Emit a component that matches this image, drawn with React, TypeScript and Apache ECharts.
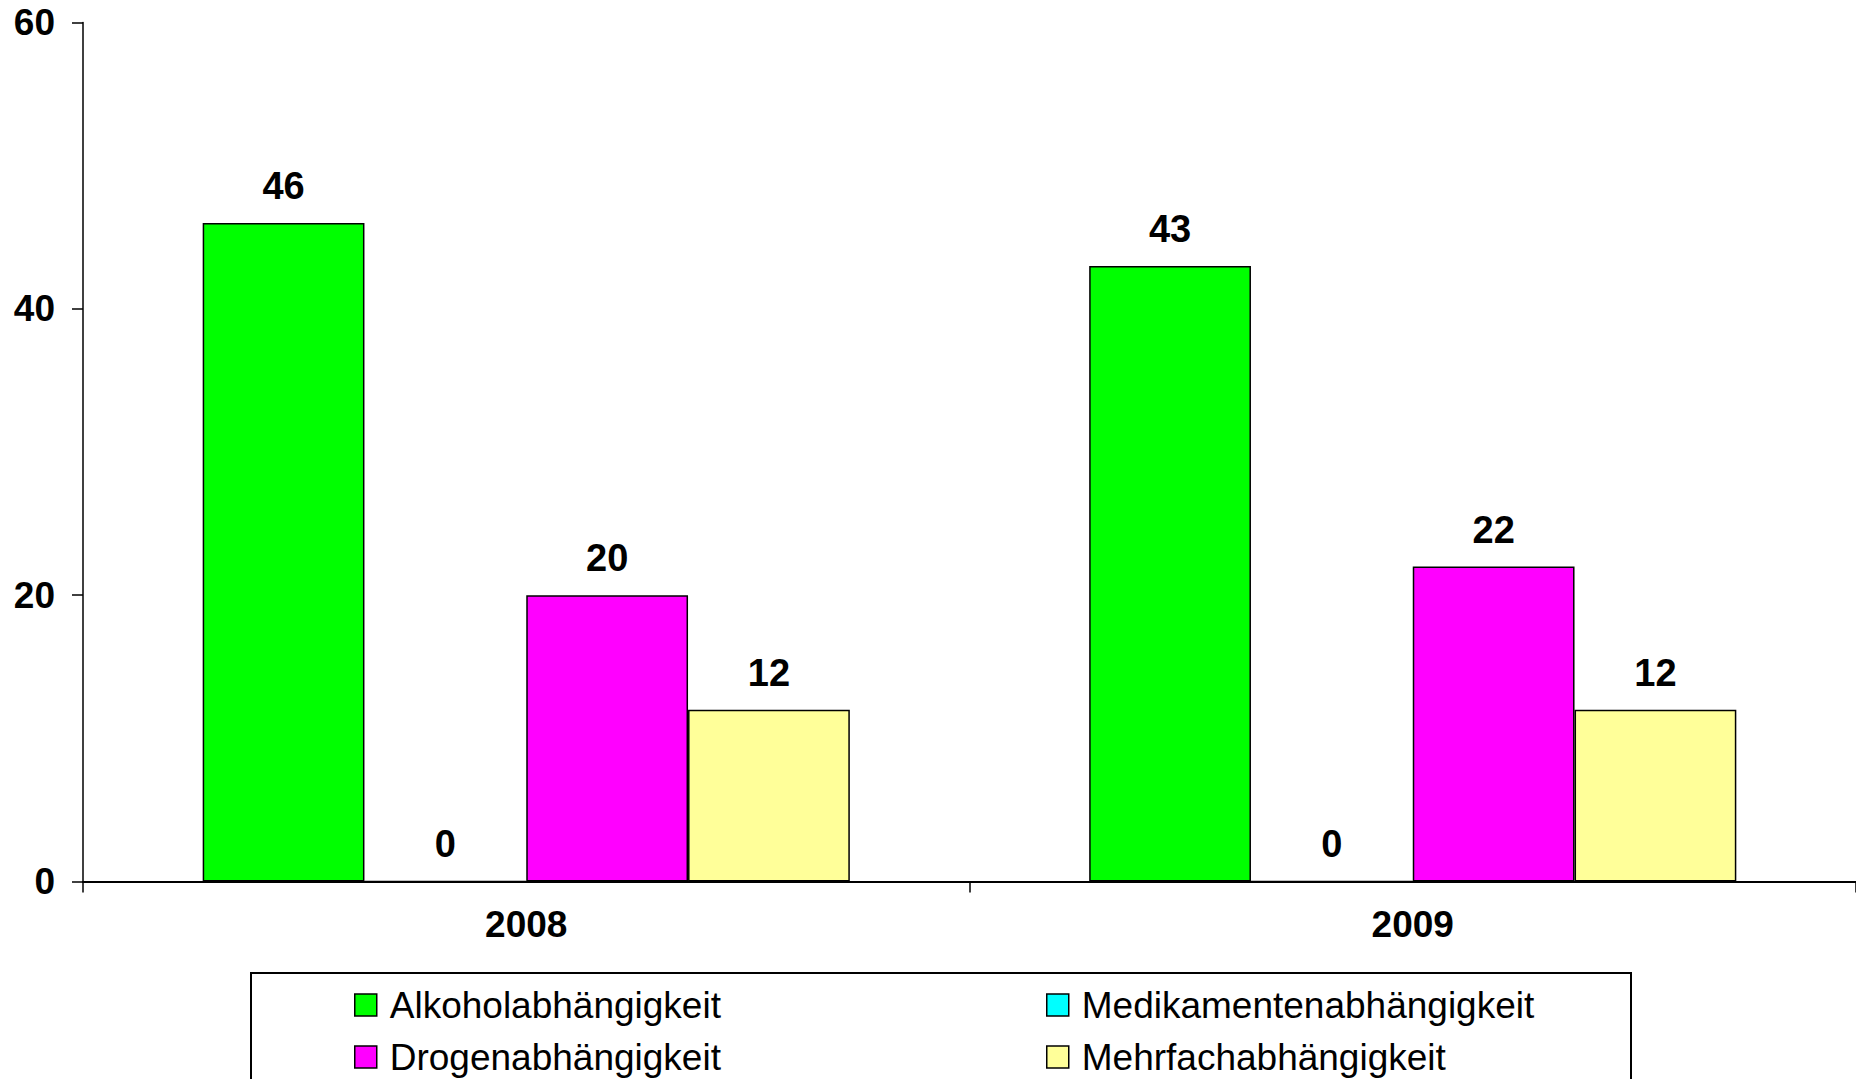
import React, { useEffect, useRef } from "react";
import * as echarts from "echarts";

const categories = ["2008", "2009"];
const seriesNames = [
  "Alkoholabhängigkeit",
  "Medikamentenabhängigkeit",
  "Drogenabhängigkeit",
  "Mehrfachabhängigkeit",
];
const alkohol = [46, 43];
const medikamente = [0, 0];
const drogen = [20, 22];
const mehrfach = [12, 12];
const seriesColors = ["#00FF00", "#00FFFF", "#FF00FF", "#FFFF99"];
const yTicks = { min: 0, max: 60, interval: 20 };

const FONT = "'Liberation Sans', Arial, sans-serif";

export default function App() {
  const ref = useRef<HTMLDivElement>(null);
  useEffect(() => {
    if (!ref.current) return;
    const chart = echarts.init(ref.current, null, { renderer: "svg" });
    const values = [alkohol, medikamente, drogen, mehrfach];
    const series = seriesNames.map((name, i) => ({
      name,
      type: "bar",
      data: values[i],
      barGap: "0%",
      barCategoryGap: "27%",
      itemStyle: { color: seriesColors[i], borderColor: "#000", borderWidth: 1.5 },
      label: {
        show: true,
        position: "top",
        distance: 18,
        color: "#000",
        fontFamily: FONT,
        fontWeight: "bold",
        fontSize: 38,
      },
    }));
    const legendCommon = {
      orient: "vertical",
      top: 985,
      padding: 0,
      itemWidth: 22,
      itemHeight: 22,
      itemGap: 12,
      icon: "rect",
      itemStyle: { borderColor: "#000", borderWidth: 1.5 },
      textStyle: {
        color: "#000",
        fontFamily: FONT,
        fontSize: 37,
        lineHeight: 40,
        padding: [0, 0, 0, 8],
      },
      selectedMode: false,
    };
    chart.setOption({
      animation: false,
      backgroundColor: "#fff",
      grid: { left: 83, right: 0, top: 22.5, bottom: 197.5, containLabel: false },
      xAxis: {
        type: "category",
        data: categories,
        axisLine: { lineStyle: { color: "#000", width: 2 } },
        axisTick: { show: true, length: 11, lineStyle: { color: "#000", width: 1.5 } },
        axisLabel: {
          color: "#000",
          fontFamily: FONT,
          fontWeight: "bold",
          fontSize: 37,
          margin: 24,
        },
      },
      yAxis: {
        type: "value",
        min: yTicks.min,
        max: yTicks.max,
        interval: yTicks.interval,
        splitLine: { show: false },
        axisLine: { show: true, lineStyle: { color: "#000", width: 1.5 } },
        axisTick: { show: true, length: 11, lineStyle: { color: "#000", width: 1.5 } },
        axisLabel: {
          color: "#000",
          fontFamily: FONT,
          fontWeight: "bold",
          fontSize: 37,
          margin: 28,
        },
      },
      legend: [
        { ...legendCommon, left: 354, data: [seriesNames[0], seriesNames[2]] },
        { ...legendCommon, left: 1046, data: [seriesNames[1], seriesNames[3]] },
      ],
      graphic: [
        {
          type: "rect",
          shape: { x: 251, y: 973, width: 1380, height: 130 },
          style: { fill: "none", stroke: "#000", lineWidth: 2 },
          z: -1,
        },
      ],
      series,
    });
    return () => chart.dispose();
  }, []);
  return (
    <div
      ref={ref}
      style={{ position: "absolute", left: 0, top: 0, width: 1856, height: 1079 }}
    />
  );
}
